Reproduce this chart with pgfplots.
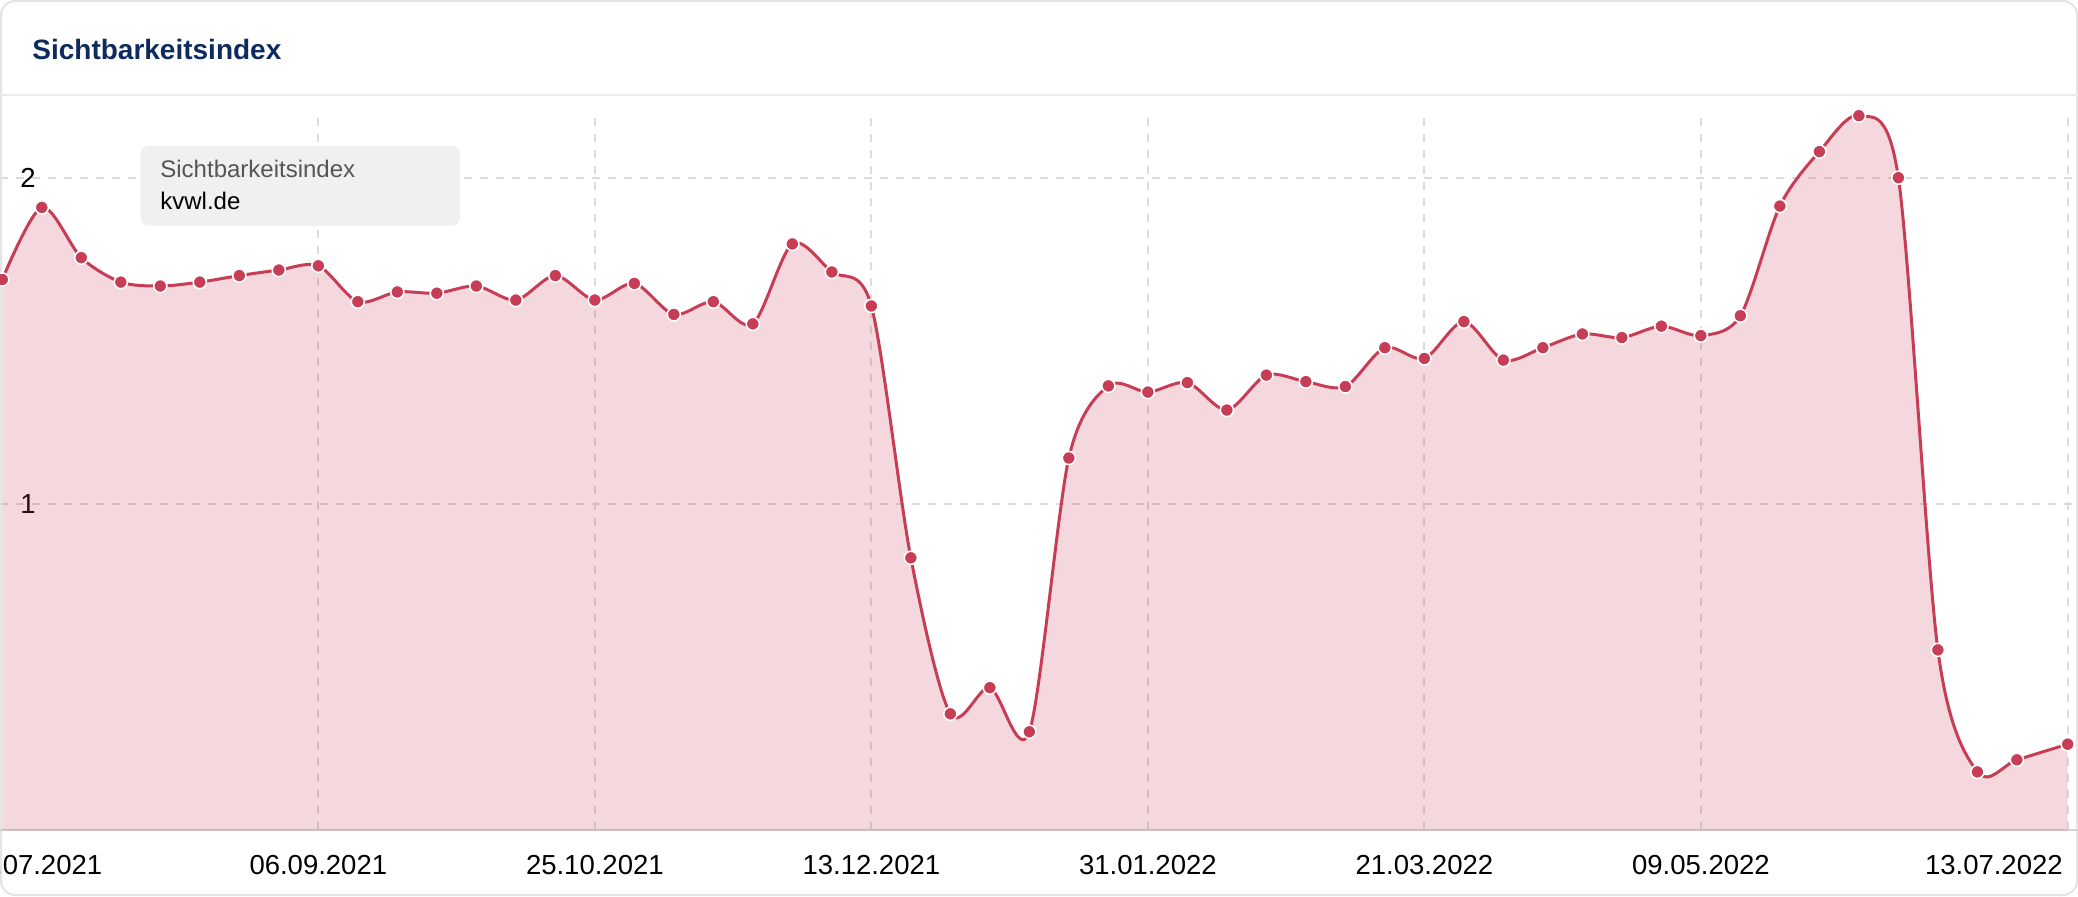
\documentclass[border=0pt]{standalone}
\usepackage{fontspec}
\setmainfont{Liberation Sans}
\usepackage{pgfplots}
\usepackage{pgfplotstable}
\pgfplotsset{compat=1.18}
\definecolor{linec}{RGB}{198,61,85}
\definecolor{titlec}{RGB}{13,43,94}
\definecolor{gridc}{RGB}{220,220,220}
\definecolor{sepc}{RGB}{235,235,235}
\definecolor{cardc}{RGB}{228,228,228}
\definecolor{tipc}{RGB}{240,240,240}
\definecolor{tiptext}{RGB}{85,85,85}
\definecolor{axisc}{RGB}{214,208,210}
\pgfplotstableread{
d v
0 1.688
7 1.909
14 1.755
21 1.680
28 1.668
35 1.680
42 1.700
49 1.717
56 1.730
63 1.620
70 1.650
77 1.646
84 1.668
91 1.625
98 1.700
105 1.625
112 1.676
119 1.581
126 1.620
133 1.552
140 1.797
147 1.711
154 1.607
161 0.835
168 0.357
175 0.437
182 0.302
189 1.141
196 1.362
203 1.343
210 1.372
217 1.288
224 1.395
231 1.375
238 1.360
245 1.479
252 1.446
259 1.559
266 1.441
273 1.479
280 1.521
287 1.510
294 1.545
301 1.516
308 1.577
315 1.913
322 2.080
329 2.190
336 2.000
343 0.553
350 0.179
357 0.216
366 0.264
}\datatable
\begin{document}
\begin{tikzpicture}[x=1pt,y=1pt]
\draw[cardc, line width=1pt, rounded corners=7pt] (0.5,0.5) rectangle (1038.5,447.5);
\node[anchor=base west, text=titlec, font=\fontsize{14}{16}\selectfont\bfseries, inner sep=0pt] at (16,418) {Sichtbarkeitsindex};
\draw[sepc, line width=1pt] (0,400.5) -- (1039,400.5);
\begin{axis}[
  at={(0pt,32.85pt)}, anchor=south west,
  width=1039pt, height=357.3pt, scale only axis,
  xmin=-0.41, xmax=367.84, ymin=0, ymax=2.19,
  clip=false,
  separate axis lines,
  axis x line*=bottom, axis y line*=left,
  axis line style={-},
  x axis line style={axisc, line width=1pt},
  y axis line style={draw=none},
  major tick length=0pt, minor tick length=0pt,
  /pgf/number format/assume math mode=true,
  ytick={1,2}, yticklabels={1,2},
  ymajorgrids=true, xmajorgrids=false,
  xtick={5.5,56,105,154,203,252,301},
  xticklabels={19.07.2021,06.09.2021,25.10.2021,13.12.2021,31.01.2022,21.03.2022,09.05.2022},
  minor xtick={56,105,154,203,252,301,366},
  xminorgrids=true,
  extra x ticks={366},
  extra x tick labels={13.07.2022},
  extra x tick style={grid=none, xticklabel style={anchor=north east, xshift=-2.3pt}},
  major grid style={gridc, line width=1pt, dash pattern=on 4pt off 4pt},
  minor grid style={gridc, line width=1pt, dash pattern=on 4pt off 4pt},
  xticklabel style={font=\fontsize{13.75}{16}\selectfont, inner sep=0pt, yshift=-12.5pt},
  yticklabel style={font=\fontsize{13.75}{16}\selectfont, inner sep=0pt, anchor=west, xshift=10pt},
]
\addplot[draw=none, fill=linec, fill opacity=0.2, smooth, forget plot] table[x=d, y=v] {\datatable} \closedcycle;
\addplot[linec, line width=1.5pt, smooth, mark=*, mark size=3.3pt,
  mark options={fill=linec, draw=white, line width=0.8pt, solid}] table[x=d, y=v] {\datatable};
\end{axis}
\fill[tipc, rounded corners=4pt] (70.3,335.2) rectangle (230,375);
\node[anchor=base west, inner sep=0pt, font=\fontsize{12}{14}\selectfont, text=tiptext] at (80,359) {Sichtbarkeitsindex};
\node[anchor=base west, inner sep=0pt, font=\fontsize{12}{14}\selectfont] at (80,343) {kvwl.de};
\pgfresetboundingbox
\useasboundingbox (0,0) rectangle (1039,448);
\end{tikzpicture}
\end{document}
